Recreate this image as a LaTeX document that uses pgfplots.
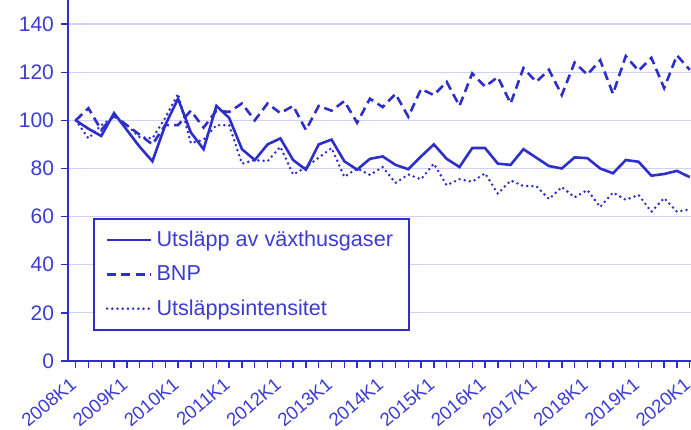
\documentclass[border=0pt]{standalone}
\usepackage{pgfplots}
\pgfplotsset{compat=1.18}
\usepackage{pgfplotstable}
\usepackage{fontspec}
\setmainfont{Liberation Sans}
\definecolor{ink}{RGB}{46,46,200}
\definecolor{txt}{RGB}{60,60,210}
\definecolor{gridc}{RGB}{210,210,246}

% index 2008K1 = 100
\pgfplotstableread{
q utsl bnp int
0 100 100 100
1 96.5 105 92.5
2 93.5 96 98
3 103 102 101.5
4 96 98 98
5 89 94 93
6 83 90 92.5
7 98 98 101
8 109 98 111
9 95 104 90.5
10 88 97 92
11 106 104 98
12 101 103.5 98
13 88 107 82
14 83.5 100 83.5
15 90 107 83
16 92.5 103 89
17 83.5 106 77.5
18 79.5 96 80.5
19 90 106 84.5
20 92 104 88.5
21 83 108 76.5
22 79.5 99 80
23 84 109 77.3
24 85 105.5 80.6
25 81.5 111 74
26 79.7 101.5 77.5
27 85 113 75.5
28 90 110.5 82
29 84 116 73
30 80.6 106 75.6
31 88.5 119.5 74.5
32 88.5 114 78
33 82 118 69.5
34 81.5 107 75
35 88 121.7 72.7
36 84.5 116 72.7
37 81 121 67.3
38 80 110.5 72.3
39 84.6 124 68
40 84.3 119 71
41 80 125 64
42 78 111 70
43 83.5 126.7 67
44 82.8 120.6 69
45 77 126 62
46 77.7 113.4 67.7
47 79 127 62
48 76.4 121 63
}\data

\begin{document}
\begin{tikzpicture}
\begin{axis}[
    width=311.5pt, height=180.5pt, scale only axis,
    xmin=-0.6, xmax=48.1, ymin=0, ymax=150,
    axis lines=left,
    axis line style={-, ink, line width=0.8pt},
    ytick={0,20,...,140},
    xtick={0,4,...,48},
    xticklabels={2008K1,2009K1,2010K1,2011K1,2012K1,2013K1,2014K1,2015K1,2016K1,2017K1,2018K1,2019K1,2020K1},
    minor xtick={0,1,...,48},
    tick style={ink, line width=0.7pt},
    major tick length=3.5pt, minor tick length=3.5pt,
    tick align=outside,
    ymajorgrids,
    grid style={gridc, line width=0.6pt},
    yticklabel style={font=\fontsize{10.5}{12}\selectfont, text=txt},
    xticklabel style={font=\fontsize{9.3}{11}\selectfont, text=txt,
        rotate=40, anchor=north east, inner sep=1pt, xshift=-4pt},
    /pgf/number format/assume math mode=true,
    legend style={at={(0.04,0.396)}, anchor=north west, draw=ink, line width=0.8pt,
        fill=white, font=\fontsize{10.8}{13}\selectfont, text=txt,
        inner xsep=6pt, inner ysep=4pt, row sep=4pt},
    legend cell align=left,
    legend image code/.code={\draw[#1] (0pt,0pt) -- (22pt,0pt);},
]
\addplot[ink, line width=1.3pt] table[x=q, y=utsl] {\data};
\addplot[ink, line width=1.3pt, dash pattern=on 4.5pt off 2.6pt] table[x=q, y=bnp] {\data};
\addplot[ink, line width=1.4pt, line cap=round, dash pattern=on 0pt off 2.6pt] table[x=q, y=int] {\data};
\legend{Utsläpp av växthusgaser, BNP, Utsläppsintensitet}
\coordinate (bl) at (rel axis cs:0,0);
\coordinate (tr) at (rel axis cs:1,1);
\end{axis}
\pgfresetboundingbox
\path ([xshift=-34pt,yshift=-34pt]bl) rectangle (tr);
\end{tikzpicture}
\end{document}
